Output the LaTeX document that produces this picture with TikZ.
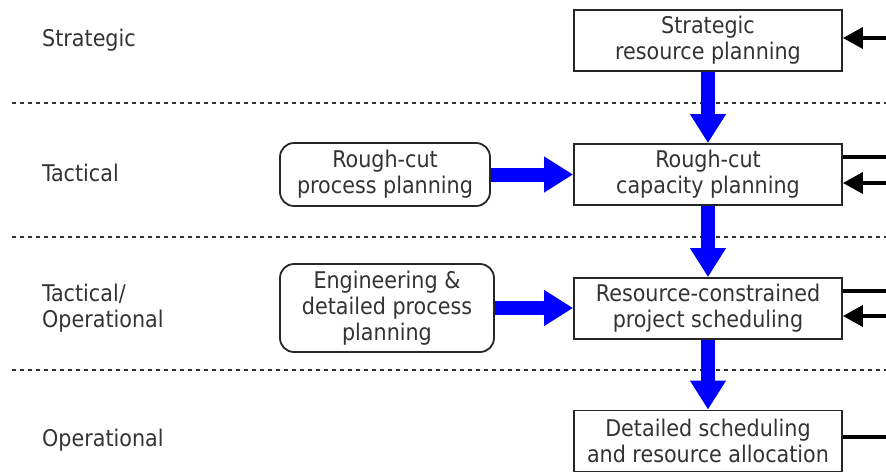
\documentclass[tikz,border=0pt]{standalone}
\usepackage{fontspec}
\setmainfont{DejaVu Sans Condensed}
\usetikzlibrary{arrows.meta}
\definecolor{txt}{HTML}{333333}
\tikzset{
  level/.style={anchor=west, align=left, text=txt, font=\fontsize{23}{26}\selectfont, inner sep=0pt},
  task/.style={draw=black!85, line width=1.8pt, fill=white, align=center, text=txt,
    font=\fontsize{23}{26}\selectfont, minimum width=268pt, minimum height=61pt, inner sep=0pt},
  input/.style={task, rounded corners=14pt},
  flow/.style={draw=blue, line width=14pt, -{Triangle[width=34pt,length=29pt]}},
  link/.style={draw=black, line width=3.6pt},
  feed/.style={link, -{Triangle[width=21pt,length=20pt]}},
  divider/.style={draw=black!80, line width=1.6pt, dash pattern=on 4pt off 4pt},
}
\begin{document}
\begin{tikzpicture}[x=1pt,y=-1pt]
\useasboundingbox (0,0) rectangle (886,472);

% planning levels
\node[level] (lv1) at (42,40) {Strategic};
\node[level] (lv2) at (42,173) {Tactical};
\node[level] (lv3) at (42,308) {Tactical/\\Operational};
\node[level] (lv4) at (42,440) {Operational};

% level separators
\coordinate (d1a) at (12,103);  \coordinate (d1b) at (886,103);
\coordinate (d2a) at (12,237);  \coordinate (d2b) at (886,237);
\coordinate (d3a) at (12,370);  \coordinate (d3b) at (886,370);
\draw[divider] (d1a) -- (d1b);
\draw[divider] (d2a) -- (d2b);
\draw[divider] (d3a) -- (d3b);

% hierarchy of planning tasks
\node[task] (srp) at (708,40.5) {Strategic\\resource planning};
\node[task] (rcc) at (708,174.5) {Rough-cut\\capacity planning};
\node[task] (rcps) at (708,308.5) {Resource-constrained\\project scheduling};
\node[task] (dsra) at (708,441) {Detailed scheduling\\and resource allocation};

% process planning inputs
\node[input, minimum width=210pt, minimum height=63pt] (rcpp) at (385,174.5) {Rough-cut\\process planning};
\node[input, minimum width=214pt, minimum height=88pt] (edpp) at (387,308) {Engineering \&\\detailed process\\planning};

% vertical flow
\draw[flow] (srp) -- (rcc);
\draw[flow] (rcc) -- (rcps);
\draw[flow] (rcps) -- (dsra);

% horizontal flow
\draw[flow] (rcpp) -- (rcc);
\draw[flow] (edpp.east) -- (rcps.west|-edpp.east);

% links to the right-hand side
\coordinate (r1) at (886,38);
\coordinate (r2) at (886,157);
\coordinate (r3) at (886,183);
\coordinate (r4) at (886,291);
\coordinate (r5) at (886,316);
\coordinate (r6) at (886,437);
\draw[feed] (r1) -- (srp.east|-r1);
\draw[link] (rcc.east|-r2) -- (r2);
\draw[feed] (r3) -- (rcc.east|-r3);
\draw[link] (rcps.east|-r4) -- (r4);
\draw[feed] (r5) -- (rcps.east|-r5);
\draw[link] (dsra.east|-r6) -- (r6);
\end{tikzpicture}
\end{document}
